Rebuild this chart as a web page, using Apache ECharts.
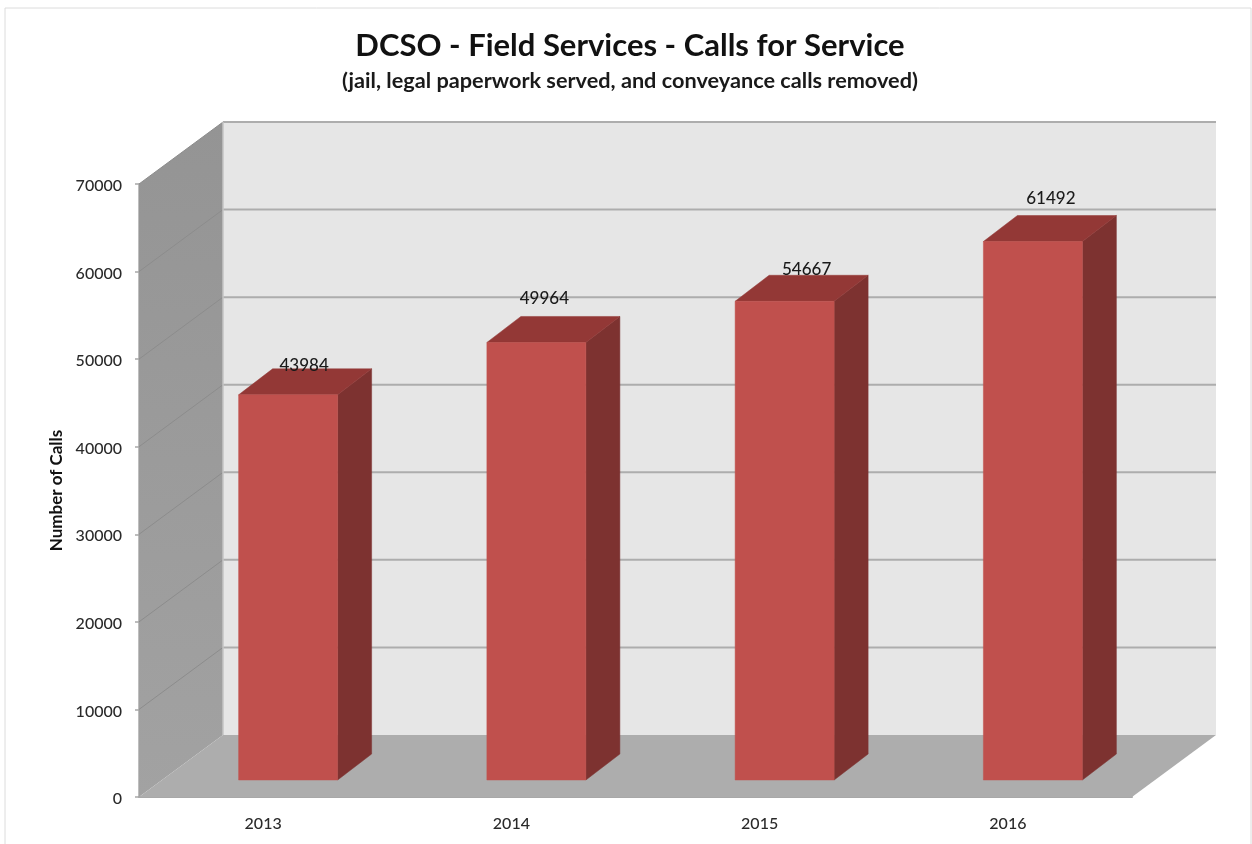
<!DOCTYPE html>
<html>
<head>
<meta charset="utf-8">
<style>html,body{margin:0;padding:0;background:#fff}#c{width:1252px;height:844px}</style>
<script src="https://cdn.jsdelivr.net/npm/echarts@6/dist/echarts.min.js"></script>
</head>
<body>
<div id="c"></div>
<script>
const categories = ['2013', '2014', '2015', '2016'];
const calls = [43984, 49964, 54667, 61492];
const yTicks = [0, 10000, 20000, 30000, 40000, 50000, 60000, 70000];

// Projection of the 3D box, in pixels
const WALL_DEPTH = [84, -62];
const BAR_BASE = [25, -17];
const BAR_DEPTH = [34, -26];
const BAR_WIDTH = 99;
// Hand-placed label shifts from the bar's front-top centre
const LABEL_SHIFT = [[16, -29], [8, -44], [22, -32], [18, -43]];

const chart = echarts.init(document.getElementById('c'), null, { renderer: 'canvas' });

function poly(points, fill, stroke, lw) {
  return { type: 'polygon', shape: { points }, style: { fill, stroke: stroke || fill, lineWidth: lw === undefined ? 0.5 : lw }, silent: true };
}
function line(points, stroke, lw) {
  return { type: 'polyline', shape: { points }, style: { fill: 'none', stroke, lineWidth: lw }, silent: true };
}
const add = (p, d) => [p[0] + d[0], p[1] + d[1]];

function renderBox(params, api) {
  const band = api.size([1, 0])[0];
  const left = api.coord([0, 0])[0] - band / 2;
  const right = left + band * categories.length;
  const y0 = api.coord([0, 0])[1];
  const yTop = api.coord([0, yTicks[yTicks.length - 1]])[1];
  const fl = [left, y0], fr = [right, y0];
  const tl = [left, yTop];
  const sideFill = new echarts.graphic.LinearGradient(0, 0, 0, 1, [
    { offset: 0, color: '#949494' }, { offset: 1, color: '#a2a2a2' }
  ]);
  const children = [
    poly([add(fl, WALL_DEPTH), add(fr, WALL_DEPTH), add([right, yTop], WALL_DEPTH), add(tl, WALL_DEPTH)], '#e6e6e6', 'none', 0),
    poly([fl, add(fl, WALL_DEPTH), add(tl, WALL_DEPTH), tl], sideFill, 'none', 0),
    poly([fl, fr, add(fr, WALL_DEPTH), add(fl, WALL_DEPTH)], '#adadad', 'none', 0)
  ];
  yTicks.slice(1).forEach((v) => {
    const y = api.coord([0, v])[1];
    children.push(line([[left, y], add([left, y], WALL_DEPTH)], '#8c8c8c', 1));
    children.push(line([add([left, y], WALL_DEPTH), add([right, y], WALL_DEPTH)], '#adadad', 2));
  });
  children.push(line([add(fl, WALL_DEPTH), add(tl, WALL_DEPTH)], '#c4c4c4', 1.5));
  return { type: 'group', children };
}

function renderBar(params, api) {
  const i = api.value(0);
  const v = api.value(1);
  const top = api.coord([i, v]);
  const bot = api.coord([i, 0]);
  const cx = top[0] + BAR_BASE[0];
  const x0 = cx - BAR_WIDTH / 2, x1 = cx + BAR_WIDTH / 2;
  const yT = top[1] + BAR_BASE[1], yB = bot[1] + BAR_BASE[1];
  const shift = LABEL_SHIFT[params.dataIndex];
  return {
    type: 'group',
    children: [
      poly([[x1, yT], add([x1, yT], BAR_DEPTH), add([x1, yB], BAR_DEPTH), [x1, yB]], '#7d3230'),
      poly([[x0, yT], [x1, yT], add([x1, yT], BAR_DEPTH), add([x0, yT], BAR_DEPTH)], '#933836'),
      poly([[x0, yT], [x1, yT], [x1, yB], [x0, yB]], '#c0504d'),
      {
        type: 'text', silent: true,
        style: {
          x: cx + shift[0], y: yT + shift[1], text: String(v), align: 'center', verticalAlign: 'middle',
          fill: '#1a1a1a', font: '500 17px Lato'
        }
      }
    ]
  };
}

chart.setOption({
  animation: false,
  backgroundColor: '#ffffff',
  graphic: [{
    type: 'polyline', z: -1, silent: true,
    shape: { points: [[5, 844], [5, 8], [1251, 8], [1251, 844]] },
    style: { fill: 'none', stroke: '#dcdcdc', lineWidth: 1 }
  }],
  title: [
    { text: 'DCSO - Field Services - Calls for Service', left: 625, top: 41, textAlign: 'center', textVerticalAlign: 'middle',
      textStyle: { fontFamily: 'Lato', fontWeight: 'bold', fontSize: 31, color: '#111' } },
    { text: '(jail, legal paperwork served, and conveyance calls removed)', left: 625, top: 76, textAlign: 'center', textVerticalAlign: 'middle',
      textStyle: { fontFamily: 'Lato', fontWeight: 'bold', fontSize: 21.7, color: '#1a1a1a' } }
  ],
  grid: { left: 139, right: 120, top: 184, bottom: 47, containLabel: false },
  xAxis: {
    type: 'category', data: categories, boundaryGap: true,
    axisLine: { show: true, lineStyle: { color: '#a8a8a8', width: 2 } },
    axisTick: { show: false },
    axisLabel: { margin: 19, color: '#2a2a2a', fontFamily: 'Lato', fontSize: 16, fontWeight: 500 }
  },
  yAxis: {
    type: 'value', min: 0, max: 70000, interval: 10000,
    name: 'Number of Calls', nameLocation: 'middle', nameGap: 73, nameRotate: 90,
    nameTextStyle: { color: '#111', fontFamily: 'Lato', fontSize: 17, fontWeight: 'bold' },
    axisLine: { show: true, lineStyle: { color: '#a8a8a8', width: 1.5 } },
    axisTick: { show: true, length: 4, lineStyle: { color: '#a8a8a8', width: 1.5 } },
    splitLine: { show: false },
    axisLabel: { margin: 17, color: '#2a2a2a', fontFamily: 'Lato', fontSize: 16, fontWeight: 500,
      formatter: (v) => '{a|' + v + '}',
      rich: { a: { padding: [4, 0, 0, 0], color: '#2a2a2a', fontFamily: 'Lato', fontSize: 16, fontWeight: 500 } } }
  },
  series: [
    { type: 'custom', name: 'walls', coordinateSystem: 'cartesian2d', z: 1, silent: true,
      renderItem: renderBox, data: [[0, 0]], encode: { x: 0, y: 1 } },
    { type: 'custom', name: 'Calls', coordinateSystem: 'cartesian2d', z: 3, silent: true,
      renderItem: renderBar, data: calls.map((v, i) => [i, v]), encode: { x: 0, y: 1 } }
  ]
});
</script>
</body>
</html>
